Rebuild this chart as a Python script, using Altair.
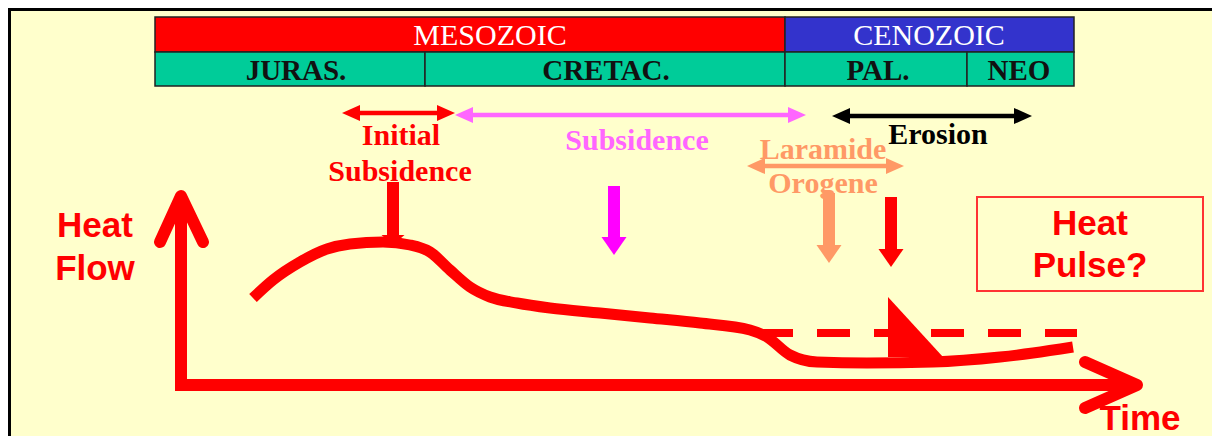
import altair as alt
import pandas as pd

# ---------------- data ----------------
era_names = ["MESOZOIC", "CENOZOIC"]
era_x0 = [155, 785]
era_x1 = [785, 1074]
era_colors = ["#FF0000", "#3333CC"]
era_text_x = [490, 929]

period_names = ["JURAS.", "CRETAC.", "PAL.", "NEO"]
period_x0 = [155, 425, 785, 967]
period_x1 = [425, 785, 967, 1074]
period_text_x = [296, 606, 878, 1019]

# horizontal double arrows (phases)
phase_x0 = [342, 455, 832, 747]
phase_x1 = [455, 806, 1032, 904]
phase_y = [113, 115, 116, 166]
phase_colors = ["#FF0000", "#FF66FF", "#000000", "#FF9966"]

# phase labels
label_text = ["Initial", "Subsidence", "Subsidence", "Erosion", "Laramide", "Orogene"]
label_x = [401, 400, 637, 938, 823, 823]
label_y = [145, 181, 150, 144, 159, 193]
label_colors = ["#FF0000", "#FF0000", "#FF66FF", "#000000", "#FF9966", "#FF9966"]

# down arrows
down_x = [393, 614, 829, 891]
down_top = [182, 186, 193, 197]
down_tip = [245, 255, 263, 267]
down_colors = ["#FF0000", "#FF00FF", "#FF9966", "#FF0000"]
down_head = [10, 18, 18, 18]

# heat-flow curve
curve_x = [253, 273, 300, 327, 350, 383, 410, 430, 450, 470, 490, 517, 550, 600, 650,
           700, 750, 767, 790, 817, 867, 933, 1000, 1033, 1073]
curve_y = [298, 280, 262, 249, 244, 242, 245, 252, 270, 287, 297, 303, 308, 313, 318,
           323, 330, 337, 355, 362, 363, 362, 357, 353, 347]

# dashed alternative (no uplift) and heat pulse spike
dash_x = [760, 1077]
dash_y = [333, 333]
spike_x = [888, 943]
spike_top = [297, 357]
spike_bottom = [357, 357]

# ---------------- scales ----------------
W, H = 1204, 428
xs = alt.Scale(domain=[8, 8 + W], nice=False, zero=False)
ys = alt.Scale(domain=[8, 8 + H], nice=False, zero=False, reverse=True)


def X(f="x"):
    return alt.X(f"{f}:Q", scale=xs, axis=None)


def Y(f="y"):
    return alt.Y(f"{f}:Q", scale=ys, axis=None)


def C(f="c"):
    return alt.Color(f"{f}:N", scale=None, legend=None)


# frame
frame = alt.Chart(pd.DataFrame({"x": [9.5], "x1": [1240], "y": [9.5], "y1": [460]})).mark_rect(
    fill="#FFFFCC", stroke="#000000", strokeWidth=3
).encode(x=X(), x2="x1:Q", y=Y(), y2="y1:Q")

# header bands
hdr = pd.DataFrame({
    "x": era_x0 + period_x0,
    "x1": era_x1 + period_x1,
    "y": [17] * 2 + [52] * 4,
    "y1": [52] * 2 + [86] * 4,
    "c": era_colors + ["#00CC99"] * 4,
})
header = alt.Chart(hdr).mark_rect(stroke="#222222", strokeWidth=1.5).encode(
    x=X(), x2="x1:Q", y=Y(), y2="y1:Q", color=C()
)
era_txt = alt.Chart(pd.DataFrame({"x": era_text_x, "y": [45, 45], "t": era_names})).mark_text(
    font="Liberation Serif", fontSize=30, color="white", align="center", baseline="alphabetic"
).encode(x=X(), y=Y(), text="t:N")
per_txt = alt.Chart(pd.DataFrame({"x": period_text_x, "y": [80] * 4, "t": period_names})).mark_text(
    font="Liberation Serif", fontSize=29, fontWeight="bold", color="#111111", align="center",
    baseline="alphabetic"
).encode(x=X(), y=Y(), text="t:N")

# phase double arrows
HL = 18
ph = pd.DataFrame({"x": [a + HL - 1 for a in phase_x0], "x1": [b - HL + 1 for b in phase_x1],
                   "y": phase_y, "c": phase_colors})
ph_shaft = alt.Chart(ph).mark_rule(strokeWidth=4.5).encode(x=X(), x2="x1:Q", y=Y(), color=C())
left_heads = alt.Chart(pd.DataFrame({"x": phase_x0, "y": phase_y, "c": phase_colors})).mark_point(
    shape="M0,0 L2,-0.9 L2,0.9 Z", size=324, filled=True, opacity=1, strokeWidth=0
).encode(x=X(), y=Y(), color=C())
right_heads = alt.Chart(pd.DataFrame({"x": phase_x1, "y": phase_y, "c": phase_colors})).mark_point(
    shape="M0,0 L-2,-0.9 L-2,0.9 Z", size=324, filled=True, opacity=1, strokeWidth=0
).encode(x=X(), y=Y(), color=C())

labels = alt.Chart(pd.DataFrame({"x": label_x, "y": label_y, "t": label_text, "c": label_colors})).mark_text(
    font="Liberation Serif", fontSize=30, fontWeight="bold", align="center", baseline="alphabetic"
).encode(x=X(), y=Y(), text="t:N", color=C())

# down arrows
dn = pd.DataFrame({"x": down_x, "y": down_top, "y1": [t - h + 1 for t, h in zip(down_tip, down_head)],
                   "tip": down_tip, "c": down_colors, "h": down_head})
dn_shaft = alt.Chart(dn).mark_rule(strokeWidth=12).encode(x=X(), y=Y(), y2="y1:Q", color=C())
dn_short = alt.Chart(dn[dn.h < 15]).mark_point(
    shape="M0,0 L-1,-0.87 L1,-0.87 Z", size=529, filled=True, opacity=1, strokeWidth=0
).encode(x=X(), y=Y("tip"), color=C())
dn_long = alt.Chart(dn[dn.h >= 15]).mark_point(
    shape="M0,0 L-1,-1.44 L1,-1.44 Z", size=625, filled=True, opacity=1, strokeWidth=0
).encode(x=X(), y=Y("tip"), color=C())

# axes (open arrows)
ax = pd.DataFrame({"x": [181, 181, 1137], "y": [197, 385, 385], "o": [0, 1, 2]})
axes = alt.Chart(ax).mark_line(color="#FF0000", strokeWidth=12, strokeJoin="miter").encode(
    x=X(), y=Y(), order="o:Q"
)
heads = pd.DataFrame({
    "x": [160, 181, 203, 1085, 1137, 1085],
    "y": [242, 196, 242, 362, 385, 408],
    "g": [0, 0, 0, 1, 1, 1],
    "o": [0, 1, 2, 0, 1, 2],
})
ax_heads = alt.Chart(heads).mark_line(color="#FF0000", strokeWidth=12, strokeCap="round",
                                      strokeJoin="round").encode(
    x=X(), y=Y(), detail="g:N", order="o:Q"
)
ax_txt = alt.Chart(pd.DataFrame({"x": [95, 95, 1140], "y": [237, 280, 430],
                                 "t": ["Heat", "Flow", "Time"]})).mark_text(
    font="Liberation Sans", fontSize=35, fontWeight="bold", color="#FF0000", align="center",
    baseline="alphabetic"
).encode(x=X(), y=Y(), text="t:N")

# curve, dashed line, spike
curve = alt.Chart(pd.DataFrame({"x": curve_x, "y": curve_y})).mark_line(
    color="#FF0000", strokeWidth=11, interpolate="monotone"
).encode(x=X(), y=Y())
dashed = alt.Chart(pd.DataFrame({"x": [dash_x[0]], "x1": [dash_x[1]], "y": [dash_y[0]]})).mark_rule(
    color="#FF0000", strokeWidth=8, strokeDash=[33, 24]
).encode(x=X(), x2="x1:Q", y=Y())
spike = alt.Chart(pd.DataFrame({"x": spike_x, "y": spike_top, "y1": spike_bottom})).mark_area(
    color="#FF0000", opacity=1
).encode(x=X(), y=Y(), y2="y1:Q")

# heat pulse box
box = alt.Chart(pd.DataFrame({"x": [977], "x1": [1203], "y": [197], "y1": [291]})).mark_rect(
    fill="#FFFFCC", stroke="#FF3333", strokeWidth=2
).encode(x=X(), x2="x1:Q", y=Y(), y2="y1:Q")
box_txt = alt.Chart(pd.DataFrame({"x": [1090, 1090], "y": [235, 277], "t": ["Heat", "Pulse?"]})).mark_text(
    font="Liberation Sans", fontSize=35, fontWeight="bold", color="#FF0000", align="center",
    baseline="alphabetic"
).encode(x=X(), y=Y(), text="t:N")

chart = alt.layer(
    frame, header, era_txt, per_txt,
    ph_shaft, left_heads, right_heads, labels,
    dn_shaft, dn_short, dn_long,
    curve, dashed, spike,
    axes, ax_heads, ax_txt,
    box, box_txt,
).properties(width=W, height=H, background="white", padding=0, autosize=alt.AutoSizeParams(type="none")
).configure_view(stroke=None)

chart.save("out.html", embed_options={"renderer": "svg", "actions": False})
